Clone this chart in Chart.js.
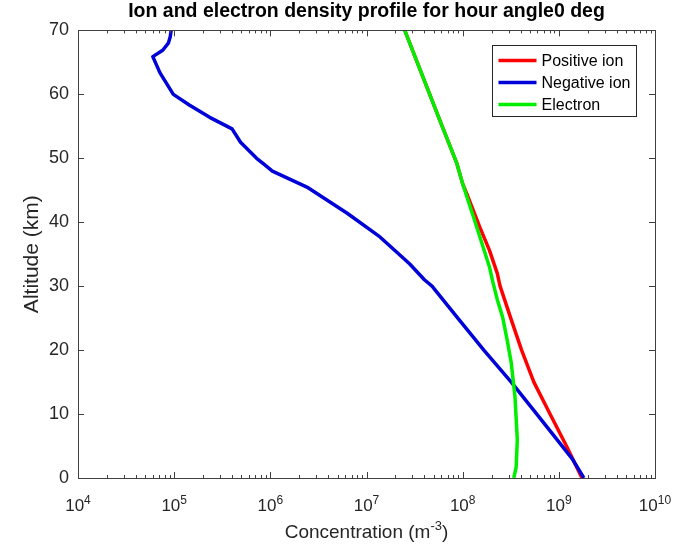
<!DOCTYPE html>
<html>
<head>
<meta charset="utf-8">
<script src="https://cdn.jsdelivr.net/npm/chart.js@4.4.1/dist/chart.umd.min.js"></script>
<style>
  html, body { margin: 0; padding: 0; background: #fff; }
  #wrap { width: 682px; height: 547px; }
</style>
</head>
<body>
<div id="wrap"><canvas id="densityChart" width="682" height="547"></canvas></div>
<script>
// altitude (km) and concentration (m^-3)
const posIonAlt = [0, 5, 10, 15, 20, 25, 30, 32, 35.6, 39.2, 44.5, 46, 49.2, 54.8, 70];
const posIonVal = [1.74e9, 1.2e9, 8.1e8, 5.5e8, 4.1e8, 3.16e8, 2.45e8, 2.29e8, 1.9e8, 1.51e8, 1.1e8, 1.0e8, 8.7e7, 6.2e7, 2.5e7];

const negIonAlt = [0, 3, 10, 15, 20, 25, 30, 31, 33.5, 35.5, 37.7, 41.4, 45.5, 48, 49, 50, 52.5, 54.6, 56.4, 58.3, 60, 63.4, 65.9, 66.9, 68, 69, 70];
const negIonVal = [1.82e9, 1.38e9, 5.9e8, 3.2e8, 1.66e8, 8.9e7, 4.8e7, 4.0e7, 2.8e7, 2.0e7, 1.38e7, 6.3e6, 2.4e6, 1.05e6, 8.7e5, 7.2e5, 4.9e5, 4.0e5, 2.34e5, 1.45e5, 9.8e4, 7.1e4, 6.0e4, 7.6e4, 8.7e4, 9.1e4, 9.3e4];

const electronAlt = [0, 1.7, 6, 12.7, 18, 21.6, 25.2, 27.8, 30.9, 33, 40, 46, 49.2, 54.8, 70];
const electronVal = [3.4e8, 3.6e8, 3.7e8, 3.5e8, 3.2e8, 2.9e8, 2.6e8, 2.3e8, 2.04e8, 1.9e8, 1.35e8, 1.0e8, 8.7e7, 6.2e7, 2.5e7];

const seriesLabels = ['Positive ion', 'Negative ion', 'Electron'];
const seriesColors = ['#ff0000', '#0000d8', '#00ee00'];

const xTickVals = [1e4, 1e5, 1e6, 1e7, 1e8, 1e9, 1e10];
const yTickVals = [0, 10, 20, 30, 40, 50, 60, 70];

const pts = (alt, val) => alt.map((a, i) => ({ x: val[i], y: a }));

const FONT = "'Liberation Sans', Arial, Helvetica, sans-serif";
const AXIS_COL = '#262626';

// text with a raised exponent, centred on cx, baseline at y
function drawPow(ctx, base, exp, cx, y, size, supSize, rise) {
    ctx.font = size + 'px ' + FONT;
    const wb = ctx.measureText(base).width;
    ctx.font = supSize + 'px ' + FONT;
    const we = ctx.measureText(exp).width;
    const x0 = cx - (wb + we) / 2;
    ctx.font = size + 'px ' + FONT;
    ctx.fillText(base, x0, y);
    ctx.font = supSize + 'px ' + FONT;
    ctx.fillText(exp, x0 + wb, y - rise);
}

// MATLAB-like box, inward ticks, x labels and legend inside the axes
const matlabAxes = {
    id: 'matlabAxes',
    afterDraw(chart) {
        const { ctx, chartArea: a, scales } = chart;
        const xs = scales.x, ys = scales.y;
        ctx.save();
        ctx.strokeStyle = '#404040';
        ctx.lineWidth = 1;
        ctx.strokeRect(Math.round(a.left) + 0.5, Math.round(a.top) + 0.5, Math.round(a.right - a.left), Math.round(a.bottom - a.top));

        ctx.beginPath();
        for (let n = 4; n <= 9; n++) {
            for (let k = 1; k <= 9; k++) {
                const px = Math.round(xs.getPixelForValue(k * Math.pow(10, n))) + 0.5;
                const len = k === 1 ? 6 : 3;
                ctx.moveTo(px, a.bottom); ctx.lineTo(px, a.bottom - len);
                ctx.moveTo(px, a.top); ctx.lineTo(px, a.top + len);
            }
        }
        yTickVals.forEach(v => {
            const py = Math.round(ys.getPixelForValue(v)) + 0.5;
            ctx.moveTo(a.left, py); ctx.lineTo(a.left + 6, py);
            ctx.moveTo(a.right, py); ctx.lineTo(a.right - 6, py);
        });
        ctx.stroke();

        // x tick labels 10^n
        ctx.fillStyle = AXIS_COL;
        ctx.textBaseline = 'alphabetic';
        ctx.textAlign = 'left';
        xTickVals.forEach(v => {
            const px = xs.getPixelForValue(v);
            drawPow(ctx, '10', String(Math.round(Math.log10(v))), px, a.bottom + 33, 17, 12, 7);
        });

        // x axis title
        ctx.font = '19px ' + FONT;
        const t1 = 'Concentration (m', t3 = ')';
        const w1 = ctx.measureText(t1).width, w3 = ctx.measureText(t3).width;
        ctx.font = '13px ' + FONT;
        const w2 = ctx.measureText('-3').width;
        let tx = (a.left + a.right) / 2 - (w1 + w2 + w3) / 2;
        const ty = a.bottom + 60;
        ctx.font = '19px ' + FONT;
        ctx.fillText(t1, tx, ty);
        ctx.font = '13px ' + FONT;
        ctx.fillText('-3', tx + w1, ty - 8);
        ctx.font = '19px ' + FONT;
        ctx.fillText(t3, tx + w1 + w2, ty);

        // legend
        const bx = Math.round(a.right) - 162.5, by = Math.round(a.top) + 15.5;
        const bw = 144, bh = 71;
        ctx.fillStyle = '#fff';
        ctx.fillRect(bx, by, bw, bh);
        ctx.strokeStyle = '#262626';
        ctx.lineWidth = 1;
        ctx.strokeRect(bx, by, bw, bh);
        ctx.font = '16px ' + FONT;
        ctx.textBaseline = 'middle';
        chart.data.datasets.forEach((ds, i) => {
            const ry = by + 15 + i * 22;
            ctx.strokeStyle = ds.borderColor;
            ctx.lineWidth = 3.5;
            ctx.beginPath();
            ctx.moveTo(bx + 6, ry); ctx.lineTo(bx + 44, ry);
            ctx.stroke();
            ctx.fillStyle = '#000';
            ctx.fillText(ds.label, bx + 49, ry + 1);
        });
        ctx.restore();
    }
};

const makeDs = (i, alt, val, order) => ({
    label: seriesLabels[i],
    data: pts(alt, val),
    borderColor: seriesColors[i],
    backgroundColor: seriesColors[i],
    borderWidth: 3.5,
    pointRadius: 0,
    showLine: true,
    tension: 0,
    borderJoinStyle: 'round',
    order: order
});

new Chart(document.getElementById('densityChart'), {
    type: 'scatter',
    data: {
        datasets: [
            makeDs(0, posIonAlt, posIonVal, 3),
            makeDs(1, negIonAlt, negIonVal, 2),
            makeDs(2, electronAlt, electronVal, 1)
        ]
    },
    options: {
        responsive: false,
        animation: false,
        events: [],
        layout: { padding: { left: 0, right: 27, top: 0, bottom: 0 } },
        plugins: {
            legend: { display: false },
            tooltip: { enabled: false },
            title: {
                display: true,
                fullSize: false,
                text: 'Ion and electron density profile for hour angle0 deg',
                color: '#000',
                font: { family: FONT, size: 19.5, weight: 'bold' },
                padding: { top: 0, bottom: 7 }
            }
        },
        scales: {
            x: {
                type: 'logarithmic',
                min: 1e4,
                max: 1e10,
                afterBuildTicks: s => { s.ticks = xTickVals.map(v => ({ value: v })); },
                afterFit: s => { s.height = 69; },
                grid: { display: false, drawTicks: false },
                border: { display: false },
                ticks: { display: false }
            },
            y: {
                min: 0,
                max: 70,
                afterBuildTicks: s => { s.ticks = yTickVals.map(v => ({ value: v })); },
                afterFit: s => { s.width = 78; },
                grid: { display: false, drawTicks: false },
                border: { display: false },
                ticks: {
                    padding: 9,
                    color: AXIS_COL,
                    font: { family: FONT, size: 18 }
                },
                title: {
                    display: true,
                    text: 'Altitude (km)',
                    color: AXIS_COL,
                    font: { family: FONT, size: 21 },
                    padding: { top: 20, bottom: 0 }
                }
            }
        }
    },
    plugins: [matlabAxes]
});
</script>
</body>
</html>
